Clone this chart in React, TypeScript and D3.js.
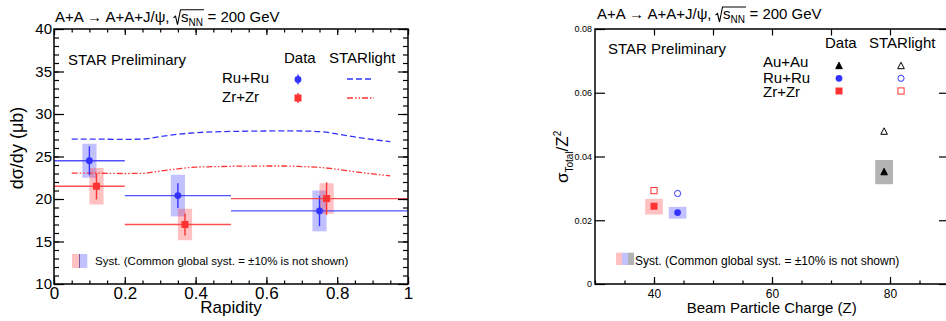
import React, { useEffect, useRef } from "react";
import * as d3 from "d3";

const FONT = "'Liberation Sans', Arial, Helvetica, sans-serif";
const BLUE = "#3333ff";
const RED = "#ff3333";
const GRAY = "#b3b3b3";

// ---- left panel: dsigma/dy vs rapidity ----
const binLo = [0, 0.2, 0.5];
const binHi = [0.2, 0.5, 1.0];
const ruRap = [0.1, 0.35, 0.75];
const ruVal = [24.5, 20.4, 18.6];
const ruStat = [1.7, 1.45, 1.8];
const ruSyst = [2.0, 2.45, 2.4];
const zrRap = [0.12, 0.37, 0.77];
const zrVal = [21.5, 17.0, 20.05];
const zrStat = [1.55, 1.3, 1.9];
const zrSyst = [2.15, 1.85, 1.8];

// STARlight predictions
const slRap = [0.05, 0.1, 0.15, 0.2, 0.25, 0.3, 0.35, 0.4, 0.45, 0.5, 0.55, 0.6, 0.65, 0.7, 0.75, 0.8, 0.85, 0.9, 0.95];
const ruStarlight = [27.05, 27.05, 27.03, 27.02, 27.05, 27.35, 27.62, 27.8, 27.9, 27.95, 27.98, 28.0, 28.02, 28.0, 27.93, 27.65, 27.3, 27.0, 26.75];
const zrStarlight = [23.05, 23.05, 23.02, 23.0, 23.02, 23.3, 23.55, 23.75, 23.8, 23.85, 23.87, 23.88, 23.88, 23.82, 23.72, 23.5, 23.2, 22.95, 22.72];

const rapTicks = [0, 0.2, 0.4, 0.6, 0.8, 1];
const rapTickLabels = ["0", "0.2", "0.4", "0.6", "0.8", "1"];
const xsecTicks = [10, 15, 20, 25, 30, 35, 40];

// ---- right panel: sigma/Z^2 vs beam charge ----
const systems = ["Au+Au", "Ru+Ru", "Zr+Zr"];
const charge = [79, 44, 40];
const dataNorm = [0.0352, 0.0224, 0.0244];
const systLo = [0.0313, 0.0205, 0.0218];
const systHi = [0.0389, 0.0242, 0.0267];
const starlightNorm = [0.0479, 0.0284, 0.0293];
const sysColor = ["#000000", BLUE, RED];
const boxColor = [GRAY, BLUE, RED];
const boxOpacity = [1, 0.3, 0.3];

const zTicks = [40, 60, 80];
const normTicks = [0, 0.02, 0.04, 0.06, 0.08];
const normTickLabels = ["0", "0.02", "0.04", "0.06", "0.08"];

type G = d3.Selection<SVGGElement, unknown, null, undefined>;

function styleAxis(sel: G, fontSize: number) {
  sel.select(".domain").remove();
  sel.attr("font-family", null).attr("font-size", null);
  sel.selectAll("line").attr("stroke", "#000").attr("stroke-width", 1.2);
  sel.selectAll("text").attr("font-family", FONT).attr("font-size", fontSize).attr("fill", "#000");
}

function marker(g: G, shape: string, cx: number, cy: number, color: string, filled: boolean) {
  const fill = filled ? color : "#fff";
  if (shape === "circle") {
    g.append("circle").attr("cx", cx).attr("cy", cy).attr("r", filled ? 3.4 : 3.1)
      .attr("fill", fill).attr("stroke", color).attr("stroke-width", filled ? 0 : 1);
  } else if (shape === "square") {
    const s = filled ? 7 : 6.2;
    g.append("rect").attr("x", cx - s / 2).attr("y", cy - s / 2).attr("width", s).attr("height", s)
      .attr("fill", fill).attr("stroke", color).attr("stroke-width", filled ? 0 : 1);
  } else {
    const h = 6;
    g.append("path").attr("d", `M${cx},${cy - h / 2 - 0.5}L${cx + 3.3},${cy + h / 2}L${cx - 3.3},${cy + h / 2}Z`)
      .attr("fill", fill).attr("stroke", color).attr("stroke-width", 1);
  }
}

function title(g: G, x0: number, base: number) {
  const t1 = g.append("text").attr("x", x0).attr("y", base).attr("font-family", FONT).attr("font-size", 15)
    .text("A+A \u2192 A+A+J/\u03c8,");
  const w1 = (t1.node() as SVGTextElement).getComputedTextLength();
  const rx = x0 + w1 + 4;
  const t2 = g.append("text").attr("x", rx + 7.5).attr("y", base).attr("font-family", FONT).attr("font-size", 15);
  t2.append("tspan").text("s");
  t2.append("tspan").attr("font-size", 10).attr("dy", 4).text("NN");
  const w2 = (t2.node() as SVGTextElement).getComputedTextLength();
  const top = base - 12;
  g.append("path")
    .attr("d", `M${rx},${base - 4}L${rx + 2},${base - 5.5}L${rx + 4},${base + 3}L${rx + 7},${top}L${rx + 7.5 + w2 + 1},${top}`)
    .attr("fill", "none").attr("stroke", "#000").attr("stroke-width", 1.1);
  g.append("text").attr("x", rx + 7.5 + w2 + 4.5).attr("y", base).attr("font-family", FONT).attr("font-size", 15)
    .text("= 200 GeV");
}

function txt(g: G, x: number, y: number, s: string, size: number, anchor = "start") {
  return g.append("text").attr("x", x).attr("y", y).attr("font-family", FONT).attr("font-size", size)
    .attr("text-anchor", anchor).attr("fill", "#000").text(s);
}

function drawRapidity(g: G) {
  const x = d3.scaleLinear().domain([0, 1]).range([54, 408]);
  const y = d3.scaleLinear().domain([10, 40]).range([284, 29]);

  // syst boxes
  const idx = d3.range(ruRap.length);
  const hw = 0.02;
  g.selectAll(".ruSys").data(idx).join("rect")
    .attr("x", (i) => x(ruRap[i] - hw)).attr("width", (i) => x(ruRap[i] + hw) - x(ruRap[i] - hw))
    .attr("y", (i) => y(ruVal[i] + ruSyst[i])).attr("height", (i) => y(ruVal[i] - ruSyst[i]) - y(ruVal[i] + ruSyst[i]))
    .attr("fill", BLUE).attr("fill-opacity", 0.3);
  g.selectAll(".zrSys").data(idx).join("rect")
    .attr("x", (i) => x(zrRap[i] - hw)).attr("width", (i) => x(zrRap[i] + hw) - x(zrRap[i] - hw))
    .attr("y", (i) => y(zrVal[i] + zrSyst[i])).attr("height", (i) => y(zrVal[i] - zrSyst[i]) - y(zrVal[i] + zrSyst[i]))
    .attr("fill", RED).attr("fill-opacity", 0.3);

  // STARlight curves
  const line = (vals: number[]) =>
    d3.line<number>().x((d) => x(d)).y((d, i) => y(vals[i])).curve(d3.curveMonotoneX)(slRap);
  g.append("path").attr("d", line(ruStarlight)).attr("fill", "none").attr("stroke", BLUE)
    .attr("stroke-width", 1.3).attr("stroke-dasharray", "6,3");
  g.append("path").attr("d", line(zrStarlight)).attr("fill", "none").attr("stroke", RED)
    .attr("stroke-width", 1.3).attr("stroke-dasharray", "6,2,1.5,2,1.5,2");

  // data: bin widths, stat errors, markers
  const series = [
    { xs: ruRap, v: ruVal, e: ruStat, c: BLUE, shape: "circle" },
    { xs: zrRap, v: zrVal, e: zrStat, c: RED, shape: "square" },
  ];
  series.forEach((s) => {
    idx.forEach((i) => {
      g.append("line").attr("x1", x(binLo[i])).attr("x2", x(binHi[i])).attr("y1", y(s.v[i])).attr("y2", y(s.v[i]))
        .attr("stroke", s.c).attr("stroke-width", 1.4).attr("stroke-opacity", 0.85);
      g.append("line").attr("x1", x(s.xs[i])).attr("x2", x(s.xs[i])).attr("y1", y(s.v[i] + s.e[i])).attr("y2", y(s.v[i] - s.e[i]))
        .attr("stroke", s.c).attr("stroke-width", 1.4);
      marker(g, s.shape, x(s.xs[i]), y(s.v[i]), s.c, true);
    });
  });

  // frame and ticks
  g.append("rect").attr("x", x(0)).attr("y", y(40)).attr("width", x(1) - x(0)).attr("height", y(10) - y(40))
    .attr("fill", "none").attr("stroke", "#000").attr("stroke-width", 1.5);
  g.append("g").attr("transform", `translate(0,${y(10)})`)
    .call(d3.axisBottom(x).tickValues(rapTicks).tickSize(-7).tickPadding(3).tickFormat((d, i) => rapTickLabels[i]))
    .call((s) => styleAxis(s as G, 17));
  g.append("g").attr("transform", `translate(0,${y(10)})`)
    .call(d3.axisBottom(x).tickValues(d3.range(0, 1.001, 0.05)).tickSize(-3.5).tickFormat(() => ""))
    .call((s) => styleAxis(s as G, 10));
  g.append("g").attr("transform", `translate(0,${y(40)})`)
    .call(d3.axisTop(x).tickValues(rapTicks).tickSize(-6).tickFormat(() => ""))
    .call((s) => styleAxis(s as G, 10));
  g.append("g").attr("transform", `translate(0,${y(40)})`)
    .call(d3.axisTop(x).tickValues(d3.range(0, 1.001, 0.05)).tickSize(-3.5).tickFormat(() => ""))
    .call((s) => styleAxis(s as G, 10));
  g.append("g").attr("transform", `translate(${x(0)},0)`)
    .call(d3.axisLeft(y).tickValues(xsecTicks).tickSize(-10).tickPadding(2).tickFormat(d3.format("d")))
    .call((s) => styleAxis(s as G, 15));
  g.append("g").attr("transform", `translate(${x(0)},0)`)
    .call(d3.axisLeft(y).tickValues(d3.range(10, 41, 1)).tickSize(-5).tickFormat(() => ""))
    .call((s) => styleAxis(s as G, 10));
  g.append("g").attr("transform", `translate(${x(1)},0)`)
    .call(d3.axisRight(y).tickValues(xsecTicks).tickSize(-10).tickFormat(() => ""))
    .call((s) => styleAxis(s as G, 10));
  g.append("g").attr("transform", `translate(${x(1)},0)`)
    .call(d3.axisRight(y).tickValues(d3.range(10, 41, 1)).tickSize(-5).tickFormat(() => ""))
    .call((s) => styleAxis(s as G, 10));

  // axis titles
  txt(g, (x(0) + x(1)) / 2, 312.7, "Rapidity", 17, "middle");
  g.append("text").attr("transform", "translate(23,148) rotate(-90)").attr("text-anchor", "middle")
    .attr("font-family", FONT).attr("font-size", 18).text("d\u03c3/dy (\u03bcb)");

  title(g, 55, 21.7);
  txt(g, 68, 65, "STAR Preliminary", 15);
  txt(g, 284, 63, "Data", 15);
  txt(g, 329, 63, "STARlight", 15);
  txt(g, 222, 83.3, "Ru+Ru", 15);
  txt(g, 222, 101.7, "Zr+Zr", 15);
  g.append("line").attr("x1", 298).attr("x2", 298).attr("y1", 74.5).attr("y2", 84.5).attr("stroke", BLUE).attr("stroke-width", 1.4);
  marker(g, "circle", 298, 79.5, BLUE, true);
  g.append("line").attr("x1", 298).attr("x2", 298).attr("y1", 93).attr("y2", 103).attr("stroke", RED).attr("stroke-width", 1.4);
  marker(g, "square", 298, 98, RED, true);
  g.append("line").attr("x1", 347).attr("x2", 374).attr("y1", 79).attr("y2", 79).attr("stroke", BLUE)
    .attr("stroke-width", 1.3).attr("stroke-dasharray", "6,3");
  g.append("line").attr("x1", 347).attr("x2", 374).attr("y1", 98).attr("y2", 98).attr("stroke", RED)
    .attr("stroke-width", 1.3).attr("stroke-dasharray", "6,2,1.5,2,1.5,2");

  // syst legend
  g.append("rect").attr("x", 72).attr("y", 254).attr("width", 8).attr("height", 14).attr("fill", RED).attr("fill-opacity", 0.3);
  g.append("rect").attr("x", 79.3).attr("y", 254).attr("width", 8).attr("height", 14).attr("fill", BLUE).attr("fill-opacity", 0.3);
  g.append("line").attr("x1", 79.5).attr("x2", 79.5).attr("y1", 254).attr("y2", 268).attr("stroke", "#7a5aa0").attr("stroke-width", 1);
  txt(g, 95, 265, "Syst. (Common global syst. = \u00b110% is not shown)", 11.5);
}

function drawCharge(g: G) {
  const x = d3.scaleLinear().domain([30, 90]).range([595, 949]);
  const y = d3.scaleLinear().domain([0, 0.08]).range([284, 29]);
  const shapes = ["triangle", "circle", "square"];
  const hw = 1.5;

  systems.forEach((_, i) => {
    g.append("rect").attr("x", x(charge[i] - hw)).attr("width", x(charge[i] + hw) - x(charge[i] - hw))
      .attr("y", y(systHi[i])).attr("height", y(systLo[i]) - y(systHi[i]))
      .attr("fill", boxColor[i]).attr("fill-opacity", boxOpacity[i]);
  });
  systems.forEach((_, i) => {
    marker(g, shapes[i], x(charge[i]), y(dataNorm[i]), sysColor[i], true);
    marker(g, shapes[i], x(charge[i]), y(starlightNorm[i]), sysColor[i], false);
  });

  // frame
  g.append("path")
    .attr("d", `M${x(90)},${y(0.08)}L${x(30)},${y(0.08)}L${x(30)},${y(0)}L${x(90)},${y(0)}L${x(90)},${y(0.08)}`)
    .attr("fill", "none").attr("stroke", "#000").attr("stroke-width", 1.5);
  g.append("g").attr("transform", `translate(0,${y(0)})`)
    .call(d3.axisBottom(x).tickValues(zTicks).tickSize(-7).tickPadding(5).tickFormat(d3.format("d")))
    .call((s) => styleAxis(s as G, 12));
  g.append("g").attr("transform", `translate(0,${y(0)})`)
    .call(d3.axisBottom(x).tickValues(d3.range(30, 91, 5)).tickSize(-3.5).tickFormat(() => ""))
    .call((s) => styleAxis(s as G, 10));
  g.append("g").attr("transform", `translate(0,${y(0.08)})`)
    .call(d3.axisTop(x).tickValues(d3.range(40, 81, 10)).tickSize(-6.5).tickFormat(() => ""))
    .call((s) => styleAxis(s as G, 10));
  g.append("g").attr("transform", `translate(${x(30)},0)`)
    .call(d3.axisLeft(y).tickValues(normTicks).tickSize(-10).tickPadding(3).tickFormat((d, i) => normTickLabels[i]))
    .call((s) => styleAxis(s as G, 9));
  g.append("g").attr("transform", `translate(${x(90)},0)`)
    .call(d3.axisRight(y).tickValues(normTicks).tickSize(-10).tickFormat(() => ""))
    .call((s) => styleAxis(s as G, 10));

  // axis titles
  txt(g, 771.7, 313, "Beam Particle Charge (Z)", 15, "middle");
  const yl = g.append("text").attr("transform", "translate(568,183) rotate(-90)").attr("font-family", FONT).attr("font-size", 17);
  yl.append("tspan").text("\u03c3");
  yl.append("tspan").attr("font-size", 10).attr("dy", 5).text("Total");
  yl.append("tspan").attr("dy", -5).text("/Z");
  yl.append("tspan").attr("font-size", 10).attr("dy", -7).text("2");

  title(g, 597, 19);
  txt(g, 608, 54, "STAR Preliminary", 15);
  txt(g, 825, 48, "Data", 15);
  txt(g, 869, 48, "STARlight", 15);
  const legBase = [66.7, 82.5, 97.3];
  const legMark = [65.7, 78.3, 91];
  systems.forEach((name, i) => {
    txt(g, 763, legBase[i], name, 15);
    marker(g, shapes[i], 839, legMark[i], sysColor[i], true);
    marker(g, shapes[i], 901, legMark[i], sysColor[i], false);
  });

  // syst legend
  g.append("rect").attr("x", 616).attr("y", 252.7).attr("width", 6).attr("height", 12.3).attr("fill", RED).attr("fill-opacity", 0.3);
  g.append("rect").attr("x", 622).attr("y", 252.7).attr("width", 6).attr("height", 12.3).attr("fill", BLUE).attr("fill-opacity", 0.3);
  g.append("rect").attr("x", 628).attr("y", 252.7).attr("width", 6).attr("height", 12.3).attr("fill", GRAY);
  txt(g, 635, 265, "Syst. (Common global syst. = \u00b110% is not shown)", 12);
}

export default function App() {
  const ref = useRef<SVGSVGElement>(null);
  useEffect(() => {
    const svg = d3.select(ref.current);
    svg.selectAll("*").remove();
    drawRapidity(svg.append("g") as unknown as G);
    drawCharge(svg.append("g") as unknown as G);
  }, []);
  return (
    <svg
      ref={ref}
      width={946}
      height={321}
      style={{ position: "absolute", left: 0, top: 0, background: "#fff" }}
    />
  );
}
